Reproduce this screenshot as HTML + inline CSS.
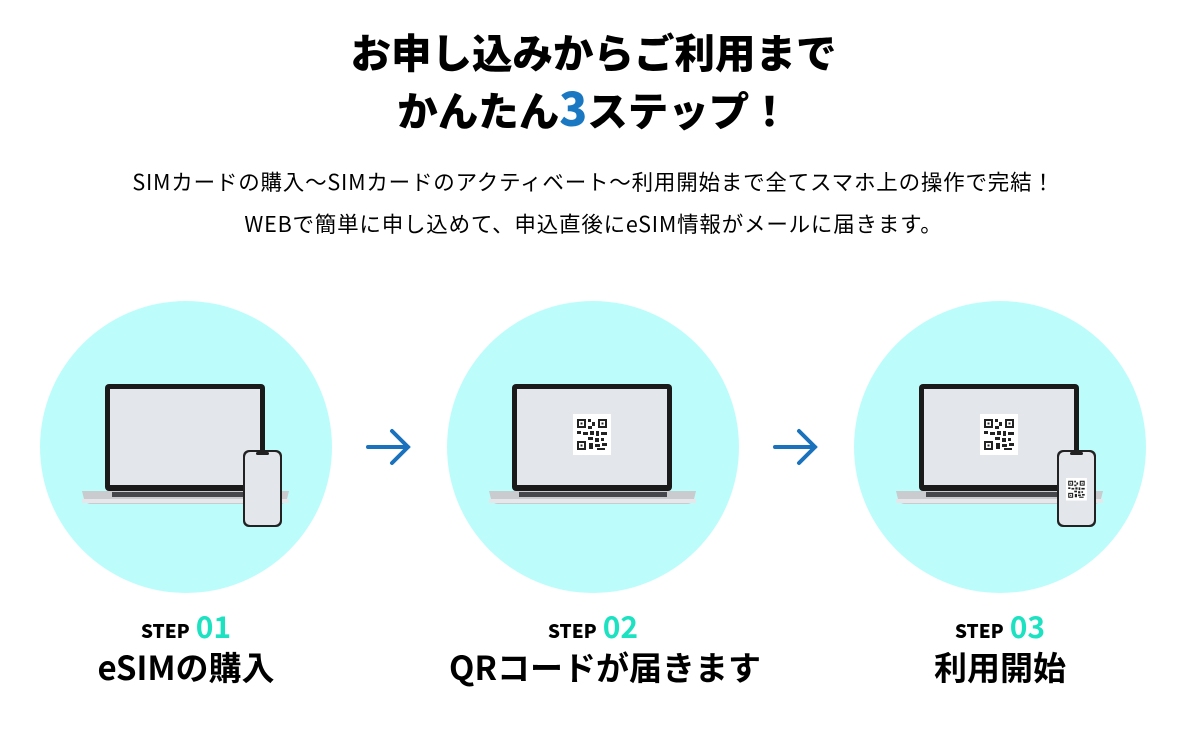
<!DOCTYPE html>
<html><head><meta charset="utf-8"><style>
body{margin:0;width:1187px;height:743px;background:#fff;position:relative;overflow:hidden;font-family:"Liberation Sans","Noto Sans CJK JP",sans-serif;color:#000}
.t{position:absolute;left:0;width:1187px;text-align:center;font-weight:900;font-size:40.5px;line-height:1}
.s{position:absolute;left:0;width:1187px;text-align:center;font-size:21.5px;line-height:1;font-family:"Noto Sans CJK JP",sans-serif;letter-spacing:0.8px}
.st{position:absolute;width:300px;text-align:center;font-weight:700;font-family:"Noto Sans CJK JP",sans-serif}
.st b{font-size:19px}
.st i{font-style:normal;color:#1de2c2;font-size:30px;margin-left:6px}
.h{position:absolute;width:400px;text-align:center;font-weight:700;font-size:33px;line-height:1;font-family:"Noto Sans CJK JP",sans-serif}
</style></head><body>
<div class="t" style="top:31px;font-family:'Noto Sans CJK JP',sans-serif">お申し込みからご利用まで</div>
<div class="t" style="top:84px;font-family:'Noto Sans CJK JP',sans-serif">かんたん<span style="color:#1a78c2;font-size:46px">3</span>ステップ！</div>
<div class="s" style="top:171px">SIMカードの購入〜SIMカードのアクティベート〜利用開始まで全てスマホ上の操作で完結！</div>
<div class="s" style="top:213px">WEBで簡単に申し込めて、申込直後にeSIM情報がメールに届きます。</div>
<svg width="1187" height="743" style="position:absolute;left:0;top:0">
<defs>
<g id="qr">
<rect x="0" y="0" width="38" height="41" fill="#fff"/>
<g fill="#222">
<rect x="4" y="5" width="9" height="9"/><rect x="6" y="7" width="5" height="5" fill="#fff"/><rect x="7.5" y="8.5" width="2" height="2"/>
<rect x="25" y="5" width="9" height="9"/><rect x="27" y="7" width="5" height="5" fill="#fff"/><rect x="28.5" y="8.5" width="2" height="2"/>
<rect x="4" y="27" width="9" height="9"/><rect x="6" y="29" width="5" height="5" fill="#fff"/><rect x="7.5" y="30.5" width="2" height="2"/>
<rect x="15" y="5" width="3" height="3"/><rect x="19" y="8" width="3" height="4"/><rect x="15" y="12" width="4" height="3"/>
<rect x="4" y="17" width="4" height="3"/><rect x="10" y="18" width="5" height="3"/><rect x="17" y="17" width="4" height="4"/>
<rect x="23" y="17" width="3" height="5"/><rect x="28" y="18" width="6" height="3"/><rect x="15" y="23" width="5" height="3"/>
<rect x="22" y="24" width="4" height="4"/><rect x="28" y="24" width="3" height="3"/><rect x="16" y="29" width="4" height="6"/>
<rect x="22" y="30" width="5" height="3"/><rect x="29" y="29" width="5" height="3"/><rect x="24" y="34" width="8" height="2"/>
</g></g>
<g id="lap">
<rect x="-81" y="-63" width="160" height="107" rx="4" fill="#1a1a1a"/>
<rect x="-76" y="-58" width="150" height="96" fill="#e3e6eb"/>
<path d="M-104 44 H103 L101 52 Q100 56 95 57 H-96 Q-101 56 -102 52 Z" fill="#c9cbcf"/>
<rect x="-74" y="45" width="148" height="5" fill="#45474c"/>
<rect x="-104" y="52" width="207" height="4" fill="#e6e7ea"/>
</g>
<g id="ph">
<rect x="0" y="0" width="39" height="77" rx="6" fill="#222"/>
<rect x="2" y="2" width="35" height="73" rx="5" fill="#e3e6eb"/>
<rect x="13" y="2" width="13" height="3" rx="1.5" fill="#222"/>
</g>
</defs>
<circle cx="186" cy="447" r="146" fill="#bcfdfc"/>
<circle cx="593" cy="447" r="146" fill="#bcfdfc"/>
<circle cx="1000" cy="447" r="146" fill="#bcfdfc"/>
<use href="#lap" x="186" y="447"/>
<use href="#ph" x="243" y="450"/>
<use href="#lap" x="593" y="447"/>
<use href="#qr" x="573" y="414"/>
<use href="#lap" x="1000" y="447"/>
<use href="#qr" x="980" y="414"/>
<use href="#ph" x="1057" y="450"/>
<g transform="translate(1066,478) scale(0.55)"><use href="#qr"/></g>
<g stroke="#1a72bd" stroke-width="4" fill="none" stroke-linecap="round">
<path d="M368 447 H408 M392 431 L408 447 L392 463"/>
<path d="M775 447 H815 M799 431 L815 447 L799 463"/>
</g>
</svg>
<div class="st" style="left:36px;top:603px"><b>STEP</b><i>01</i></div>
<div class="h" style="left:-14px;top:650px">eSIMの購入</div>
<div class="st" style="left:443px;top:603px"><b>STEP</b><i>02</i></div>
<div class="h" style="left:405px;top:650px">QRコードが届きます</div>
<div class="st" style="left:850px;top:603px"><b>STEP</b><i>03</i></div>
<div class="h" style="left:800px;top:650px">利用開始</div>
</body></html>
